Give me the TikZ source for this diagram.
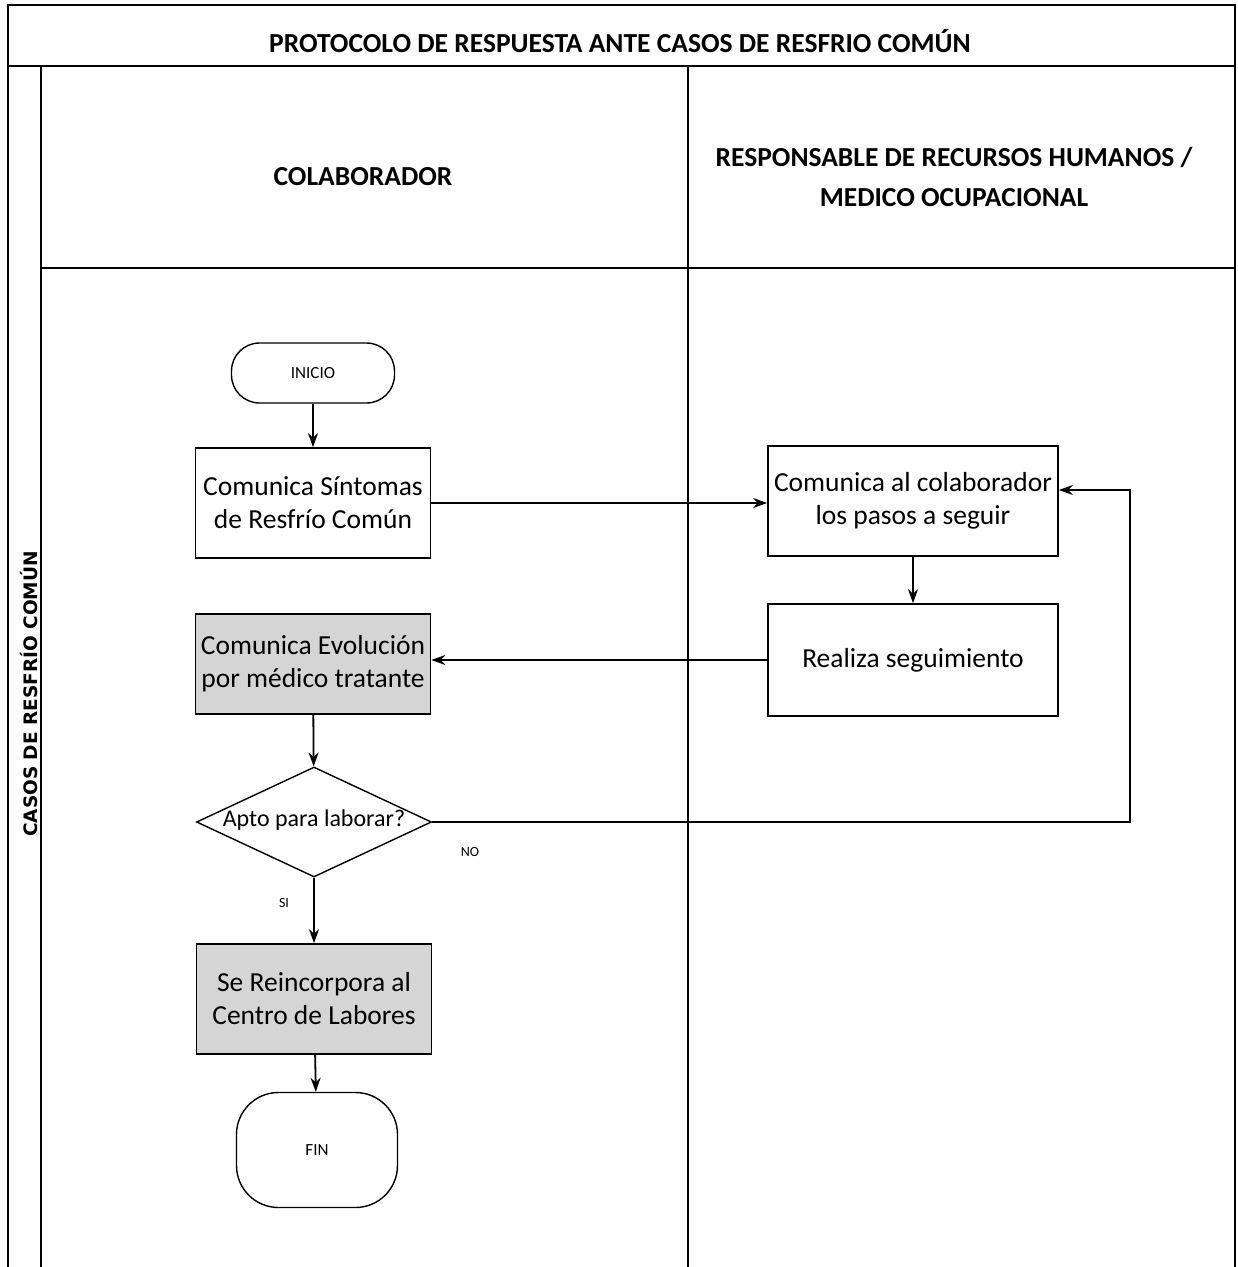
\documentclass[tikz,border=0pt]{standalone}
\usepackage{fontspec}
\setmainfont{Carlito}
\newfontfamily\labfont{DejaVu Sans}
\usetikzlibrary{arrows.meta,shapes.geometric}
\begin{document}
\begin{tikzpicture}[x=1pt,y=-1pt,
  frame/.style={line width=2pt},
  proc/.style={draw,line width=1.7pt,minimum width=235pt,minimum height=110pt,align=center,font=\fontsize{27.5}{33}\selectfont,inner sep=2pt},
  graybox/.style={proc,fill=gray!33},
  term/.style={draw,line width=1.4pt,minimum width=163pt,minimum height=60pt,font=\fontsize{17}{20}\selectfont},
  dec/.style={draw,diamond,aspect=2.1,line width=1.4pt,minimum width=235pt,minimum height=110pt,inner sep=0pt,text height=12pt,text depth=3pt,font=\fontsize{24}{28}\selectfont},
  arr/.style={line width=1.8pt,-{Stealth[length=14pt,width=10pt]}},
  lbl/.style={font=\fontsize{14}{16}\selectfont},
  head/.style={font=\bfseries\fontsize{27.5}{40}\selectfont,align=center}
]
\useasboundingbox (0,0) rectangle (1238,1267);
% frame
\draw[frame] (8,1267) -- (8,5) -- (1235,5) -- (1235,1267);
\draw[frame] (8,66) -- (1235,66);
\draw[frame] (41,66) -- (41,1267);
\draw[frame] (41,268) -- (1235,268);
\draw[frame] (688,66) -- (688,1267);
% headings
\node[head] (title) at (620,41) {PROTOCOLO DE RESPUESTA ANTE CASOS DE RESFRIO COMÚN};
\node[head] (colab) at (363,177) {COLABORADOR};
\node[head] (resp) at (954,177) {RESPONSABLE DE RECURSOS HUMANOS /\\MEDICO OCUPACIONAL};
\node[rotate=90,font=\labfont\bfseries\fontsize{18.5}{20}\selectfont] (lane) at (29,694) {CASOS DE RESFRÍO COMÚN};
% flow
\node[term,rounded corners=28pt] (inicio) at (313,373) {INICIO};
\node[proc] (b1) at (313,503) {Comunica Síntomas\\de Resfrío Común};
\node[proc,minimum width=290pt] (b2) at (913,501) {Comunica al colaborador\\los pasos a seguir};
\node[proc,minimum width=290pt,minimum height=112pt] (b3) at (913,660) {Realiza seguimiento};
\node[graybox,minimum height=100pt] (b4) at (313,664) {Comunica Evolución\\por médico tratante};
\node[dec] (d) at (314,822) {Apto para laborar?};
\node[graybox] (b5) at (314,999) {Se Reincorpora al\\Centro de Labores};
\node[term,rounded corners=42pt,minimum height=115pt,minimum width=161pt] (fin) at (317,1150) {FIN};
\node[lbl] (no) at (470,852) {NO};
\node[lbl] (si) at (284,903) {SI};
\coordinate (c1) at (1130,822);
\coordinate (c2) at (1130,490);
% connectors
\draw[arr] (inicio) -- (b1);
\draw[arr] (b1.east) -- (b1.east -| b2.west);
\draw[arr] (b2) -- (b3);
\draw[arr] (b3.west) -- (b3.west -| b4.east);
\draw[arr] (b4) -- (d);
\draw[arr] (d.east) -- (c1) -- (c2) -- (c2 -| b2.east);
\draw[arr] (d) -- (b5);
\draw[arr] (b5) -- (fin);
\end{tikzpicture}
\end{document}
